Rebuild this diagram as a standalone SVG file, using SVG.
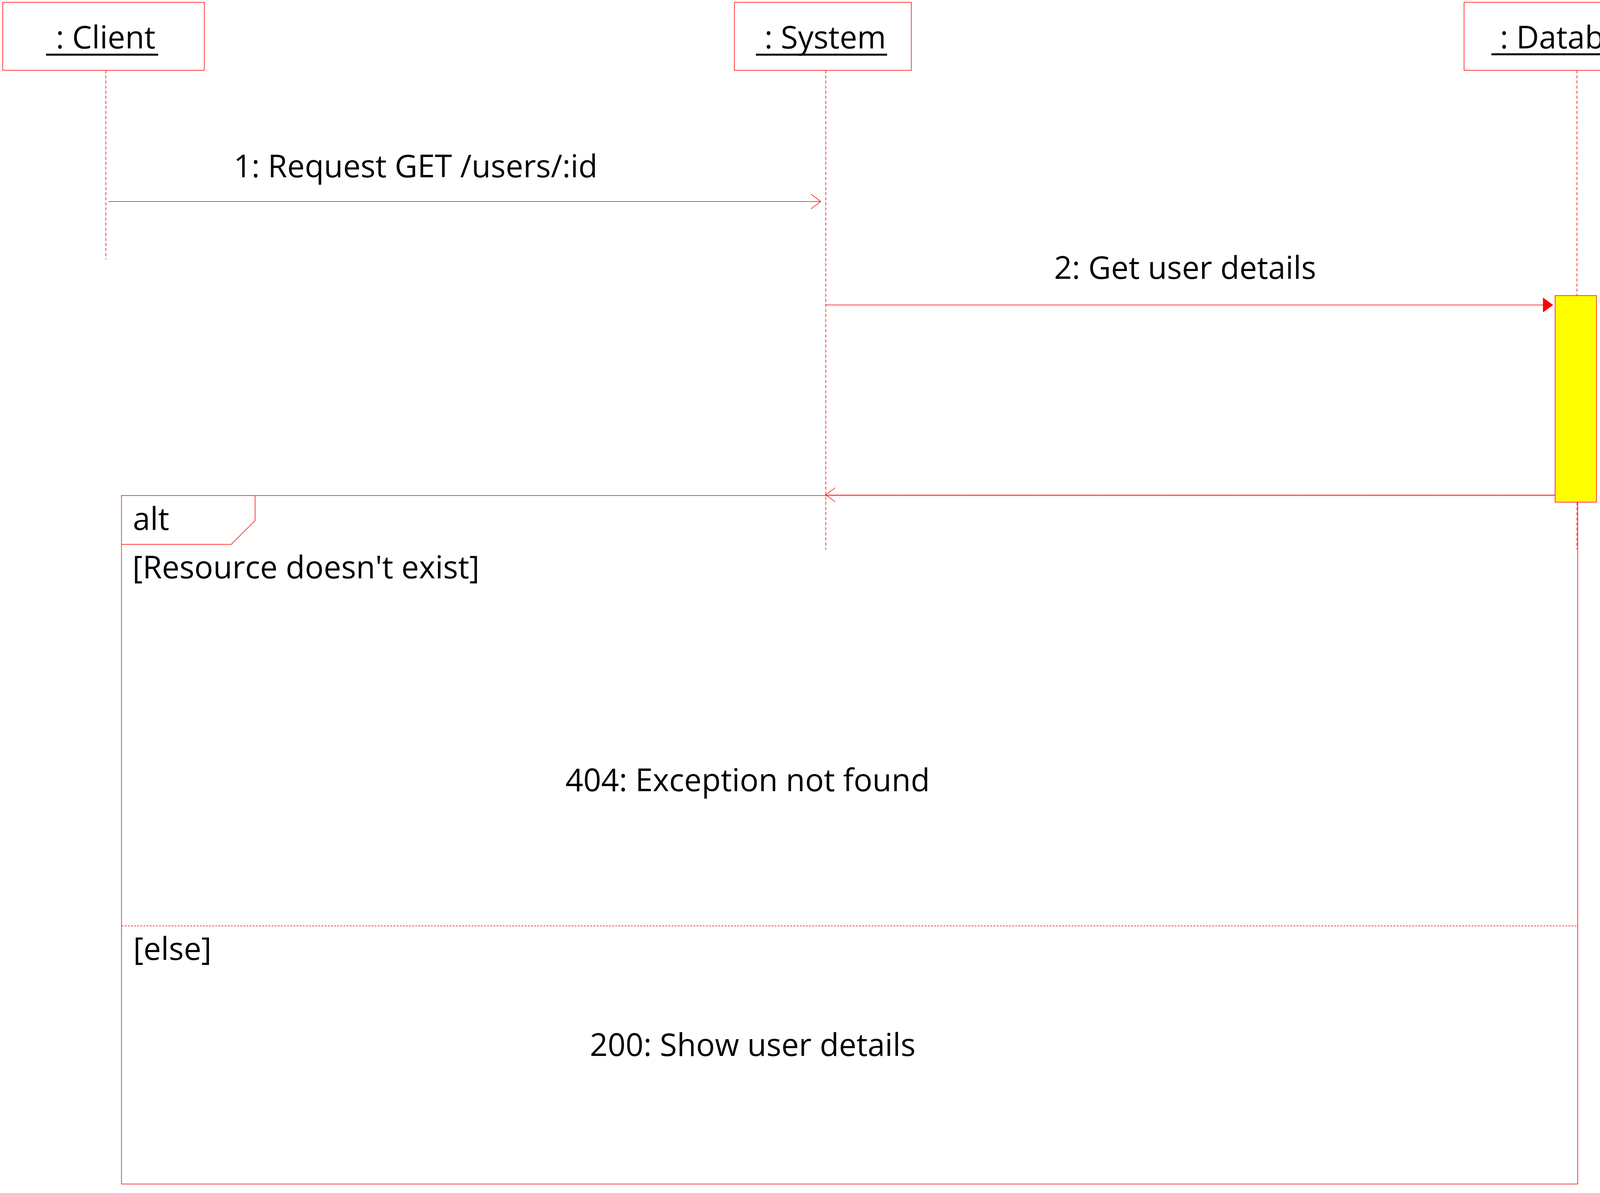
<svg xmlns="http://www.w3.org/2000/svg" width="4330" height="3055" viewBox="0 0 4330 3055">
  <style>
    .box { fill: #ffffff; stroke: #ff0000; stroke-width: 1.5; }
    .txt { font-family: "Open Sans", "Noto Sans", "Liberation Sans", sans-serif; font-size: 80px; fill: #000000; }
    .ul { stroke: #000000; stroke-width: 5; }
    .life { stroke: #ff0000; stroke-width: 1.5; stroke-dasharray: 8 5; fill: none; }
    .msg { stroke: #ff0000; stroke-width: 1.5; fill: none; }
    .ret { stroke: #ff0000; stroke-width: 1.5; stroke-dasharray: 2 2; fill: none; }
    .frame { fill: none; stroke: #ff0000; stroke-width: 1.5; }
    .sep { stroke: #ff0000; stroke-width: 1.5; stroke-dasharray: 5 3; }
    .act { fill: #ffff00; stroke: #ff0000; stroke-width: 1.5; }
  </style>
  <rect x="0" y="0" width="4330" height="3055" fill="#ffffff"/>

  <g id="alt-frame">
    <rect class="frame" x="311" y="1269" width="3728" height="1763"/>
    <path class="frame" d="M311,1394 L592,1394 L653,1333 L653,1269"/>
    <line class="sep" x1="311" y1="2371" x2="4039" y2="2371"/>
    <text class="txt" x="340" y="1357">alt</text>
    <text class="txt" x="339" y="1481">[Resource doesn't exist]</text>
    <text class="txt" x="341" y="2458">[else]</text>
    <text class="txt" x="1914" y="2026" text-anchor="middle">404: Exception not found</text>
    <text class="txt" x="1927" y="2704" text-anchor="middle">200: Show user details</text>
  </g>

  <g id="client">
    <rect class="box" x="7" y="6" width="516" height="174"/>
    <text class="txt" x="143" y="124">: Client</text>
    <line class="ul" x1="118" y1="140" x2="405" y2="140"/>
    <line class="life" x1="271" y1="180" x2="271" y2="664"/>
  </g>

  <g id="system">
    <rect class="box" x="1880" y="6" width="453" height="174"/>
    <text class="txt" x="1957" y="124">: System</text>
    <line class="ul" x1="1935" y1="140" x2="2271" y2="140"/>
    <line class="life" x1="2114" y1="180" x2="2114" y2="1408"/>
  </g>

  <g id="database">
    <rect class="box" x="3748" y="6" width="568" height="174"/>
    <text class="txt" x="3840" y="124">: Database</text>
    <line class="ul" x1="3818" y1="139" x2="4240" y2="139"/>
    <line class="life" x1="4037" y1="180" x2="4037" y2="757"/>
    <line class="life" x1="4037" y1="1286" x2="4037" y2="1407"/>
    <rect id="database-activation" class="act" x="3981" y="757" width="106" height="529"/>
  </g>

  <g id="connectors">
    <g id="msg1">
      <line class="msg" x1="278" y1="516" x2="2101" y2="516"/>
      <polyline class="msg" points="2076,497 2101,516 2076,535"/>
      <text class="txt" x="1064" y="454" text-anchor="middle">1: Request GET /users/:id</text>
    </g>
    <g id="msg2">
      <line class="msg" x1="2114" y1="781" x2="3952" y2="781"/>
      <polygon points="3950,762 3976,781 3950,800" fill="#ff0000"/>
      <text class="txt" x="3034" y="714" text-anchor="middle">2: Get user details</text>
    </g>
    <g id="msg3-return">
      <line class="ret" x1="3981" y1="1267" x2="2114" y2="1267"/>
      <polyline class="msg" points="2138,1249 2114,1267 2138,1285"/>
    </g>
  </g>

  <rect x="4325" y="0" width="5" height="3055" fill="#000000"/>
</svg>
